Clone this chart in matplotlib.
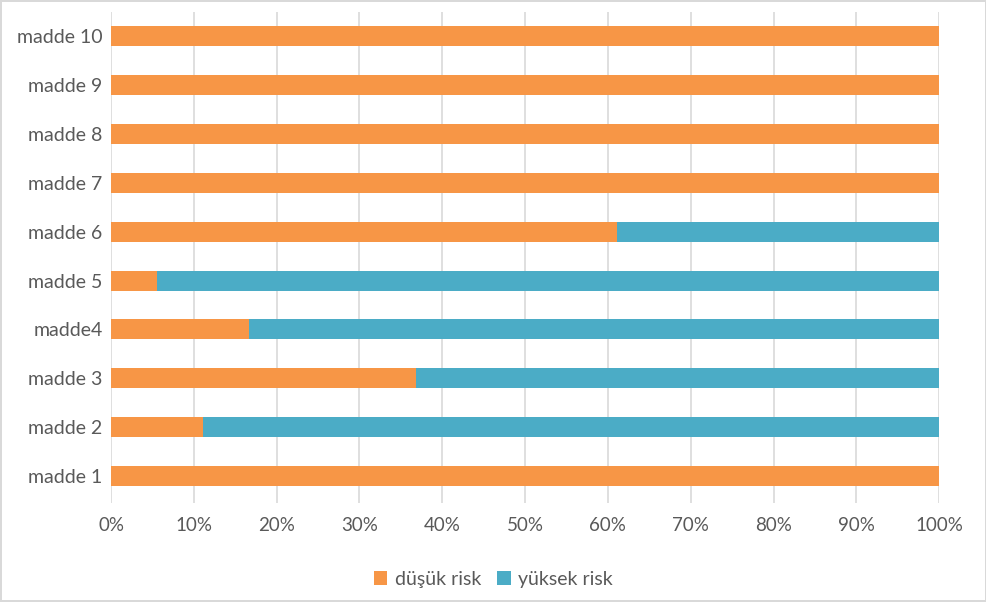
import matplotlib
matplotlib.use("Agg")
from matplotlib import pyplot as plt
from matplotlib.ticker import PercentFormatter

# data
items = ["madde 1", "madde 2", "madde 3", "madde4", "madde 5",
         "madde 6", "madde 7", "madde 8", "madde 9", "madde 10"]
dusuk = [100, 11.1, 36.8, 16.7, 5.6, 61.1, 100, 100, 100, 100]
yuksek = [0, 88.9, 63.2, 83.3, 94.4, 38.9, 0, 0, 0, 0]

orange = "#F79646"
blue = "#4BACC6"
gray = "#595959"

plt.rcParams['font.family'] = ['Lato', 'DejaVu Sans']

fig = plt.figure(figsize=(9.87, 6.02), dpi=100)
fig.patch.set_edgecolor("#D9D9D9")
fig.patch.set_linewidth(1.5)
ax = fig.add_axes([0.1125, 0.165, 0.839, 0.815])

ax.barh(items, dusuk, height=0.41, color=orange, label="düşük risk", zorder=3)
ax.barh(items, yuksek, left=dusuk, height=0.41, color=blue, label="yüksek risk", zorder=3)

ax.set_xlim(0, 100)
ax.set_ylim(-0.55, 9.5)
ax.set_xticks(range(0, 101, 10))
ax.xaxis.set_major_formatter(PercentFormatter(decimals=0))
ax.grid(axis="x", color="#D9D9D9", linewidth=1.2, zorder=0)
for s in ax.spines.values():
    s.set_visible(False)
ax.tick_params(axis="both", length=0, colors=gray)
ax.tick_params(axis="x", pad=10, labelsize=13.5)
ax.tick_params(axis="y", pad=6, labelsize=14)

fig.legend(loc="lower center", bbox_to_anchor=(0.5, -0.005), ncol=2, frameon=False,
           fontsize=14, labelcolor=gray, handlelength=0.7, handleheight=0.7,
           handletextpad=0.4, columnspacing=0.8)

fig.savefig("out.png", dpi=100)
